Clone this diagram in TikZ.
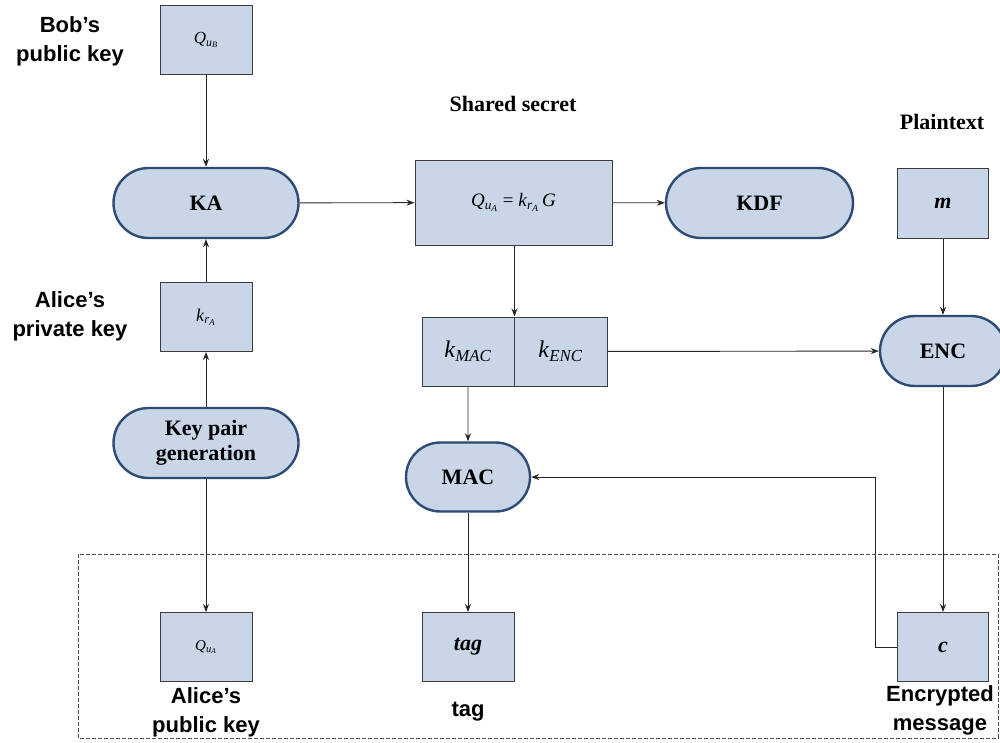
\documentclass[tikz,border=0pt]{standalone}
\usepackage{fontspec}
\setmainfont{Liberation Serif}
\setsansfont{Liberation Sans}
\usetikzlibrary{shapes.misc,arrows.meta}
\definecolor{boxfill}{RGB}{200,214,232}
\definecolor{stadborder}{RGB}{45,75,115}
\definecolor{boxborder}{RGB}{60,60,60}
\newcommand{\sub}[1]{\textsubscript{#1}}
\begin{document}
\begin{tikzpicture}[x=1pt,y=-1pt,
  box/.style={draw=boxborder,fill=boxfill,line width=1pt,minimum width=92pt,minimum height=69pt,inner sep=0pt},
  stad/.style={rounded rectangle,draw=stadborder,fill=boxfill,line width=2.4pt,minimum height=70pt,inner sep=0pt,font=\fontsize{22}{25}\selectfont\bfseries,align=center},
  lbl/.style={font=\sffamily\bfseries\fontsize{22}{29}\selectfont,align=center},
  ttl/.style={font=\bfseries\fontsize{22}{26}\selectfont},
  arr/.style={-{Stealth[length=8pt,width=6pt]},line width=0.9pt,draw=black!85}]
\useasboundingbox (0,0) rectangle (1000,742);
% left column
\node[box] (bob) at (206,40) {\fontsize{17}{20}\selectfont\textit{Q}\sub{\textit{u}\sub{\textit{B}}}};
\node[stad,minimum width=185pt] (ka) at (206,203) {KA};
\node[box] (kr) at (206,317) {\fontsize{18}{21}\selectfont\textit{k}\sub{\textit{r}\sub{\textit{A}}}};
\node[stad,minimum width=185pt] (kpg) at (206,443) {Key pair\\generation};
\node[box] (qa) at (206,647) {\fontsize{15}{18}\selectfont\textit{Q}\sub{\textit{u}\sub{\textit{A}}}};
\node[lbl] (lbob) at (70,41) {Bob’s\\public key};
\node[lbl] (lpriv) at (70,316) {Alice’s\\private key};
\node[lbl] (lpub) at (206,712) {Alice’s\\public key};
% middle
\node[ttl] (tss) at (513,104) {Shared secret};
\node[box,minimum width=197pt,minimum height=85pt] (ss) at (513.5,202.5) {\fontsize{19}{22}\selectfont\textit{Q}\sub{\textit{u}\sub{\textit{A}}} = \textit{k}\sub{\textit{r}\sub{\textit{A}}}\,\textit{G}};
\node[stad,minimum width=187pt] (kdf) at (759.5,203) {KDF};
\node[box] (kmac) at (468,351.5) {\fontsize{24}{26}\selectfont\textit{k}\sub{\textit{MAC}}};
\node[box,minimum width=93pt] (kenc) at (560.5,351.5) {\fontsize{24}{26}\selectfont\textit{k}\sub{\textit{ENC}}};
\node[stad,minimum width=124pt,minimum height=69pt] (mac) at (468,477) {MAC};
\node[box] (tag) at (468,647) {\fontsize{22}{25}\selectfont\bfseries\itshape tag};
\node[lbl] (ltag) at (468,712) {tag};
% right
\node[ttl] (tpl) at (942,122) {Plaintext};
\node[box,minimum width=91pt,minimum height=70pt] (m) at (943,203) {\fontsize{22}{25}\selectfont\bfseries\itshape m};
\node[stad,minimum width=126pt] (enc) at (943,351) {ENC};
\node[box,minimum width=91pt] (c) at (943,647) {\fontsize{22}{25}\selectfont\bfseries\itshape c};
\node[lbl] (lenc) at (940,710) {Encrypted\\message};
\coordinate (bend) at (875,647);
% connectors
\draw[arr] (bob) -- (ka);
\draw[arr] (kr) -- (ka);
\draw[arr] (kpg) -- (kr);
\draw[arr] (kpg) -- (qa);
\draw[arr] (ka) -- (ss);
\draw[arr] (ss) -- (kdf);
\draw[arr] (kmac.north east |- ss.south) -- (kmac.north east);
\draw[arr] (kmac) -- (mac);
\draw[arr] (kenc) -- (enc);
\draw[arr] (m) -- (enc);
\draw[arr] (enc) -- (c);
\draw[arr] (mac) -- (tag);
\draw[arr] (c.west) -- (bend) |- (mac.east);
% dashed region
\draw[draw=black!70,line width=0.8pt,dash pattern=on 4pt off 2pt] (78,554) rectangle (998,738);
\end{tikzpicture}
\end{document}
